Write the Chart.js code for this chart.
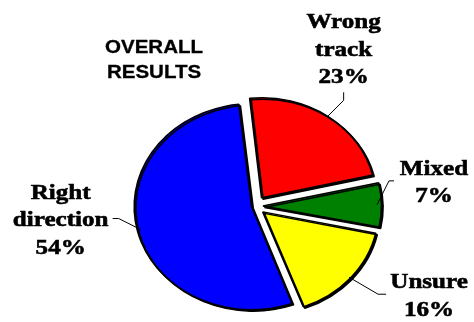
<!DOCTYPE html>
<html>
<head>
<meta charset="utf-8">
<script src="https://cdn.jsdelivr.net/npm/chart.js@4/dist/chart.umd.min.js"></script>
<style>
  html, body { margin: 0; padding: 0; background: #fff; }
  #wrap { width: 474px; height: 322px; }
</style>
</head>
<body>
<div id="wrap"><canvas id="pie" width="474" height="322"></canvas></div>
<script>
// data
const categories = ['Wrong\ntrack', 'Mixed', 'Unsure', 'Right\ndirection']
const percents = [23, 7, 16, 54]
const colors = ['#ff0000', '#008000', '#ffff00', '#0000ff']
const explode = [40, 28, 36, 12]
const titleLines = ['OVERALL', 'RESULTS']

// the original picture is stretched sideways a bit
const STRETCH = 1.14

// leader line / label placement, relative to the point on each slice edge
const labelPos = [
  { elbow: [16, -16], end: [0, -8], text: [16, -88] },
  { elbow: [12, -24], end: [5, 0], text: [57, -30] },
  { elbow: [29, 17], end: [8, 0], text: [80, 11] },
  { elbow: [-22, -11], end: [-6, 0], text: [-80, -31] }
]

function edgePoint(el, cx) {
  const mid = (el.startAngle + el.endAngle) / 2
  const r = el.outerRadius + (el.options.offset || 0) / 4
  const ux = el.x + Math.cos(mid) * r
  const uy = el.y + Math.sin(mid) * r
  return [cx + (ux - cx) * STRETCH, uy]
}

function stretchedText(ctx, t, x, y) {
  ctx.save()
  ctx.translate(x, y)
  ctx.scale(STRETCH, 1)
  ctx.fillText(t, 0, 0)
  ctx.strokeText(t, 0, 0)
  ctx.restore()
}

const stretchPlugin = {
  id: 'stretch',
  beforeDatasetsDraw(chart) {
    const ctx = chart.ctx
    const cx = chart.getDatasetMeta(0).data[0].x
    ctx.save()
    ctx.translate(cx, 0)
    ctx.scale(STRETCH, 1)
    ctx.translate(-cx, 0)
    ctx.shadowColor = '#000'
    ctx.shadowOffsetX = 1.5
    ctx.shadowOffsetY = 1.5
    ctx.shadowBlur = 0
  },
  afterDatasetsDraw(chart) {
    const ctx = chart.ctx
    ctx.restore()
    const arcs = chart.getDatasetMeta(0).data
    const cx = arcs[0].x

    // title
    ctx.save()
    ctx.fillStyle = '#000'
    ctx.strokeStyle = '#000'
    ctx.lineWidth = 0.3
    ctx.textBaseline = 'alphabetic'
    ctx.font = 'bold 18px "Liberation Sans", Arial, sans-serif'
    ctx.textAlign = 'center'
    titleLines.forEach((t, i) => stretchedText(ctx, t, 154, 53 + i * 25))
    ctx.restore()

    // slice labels with leader lines
    arcs.forEach((el, i) => {
      const p = labelPos[i]
      const [ax, ay] = edgePoint(el, cx)
      const ex = ax + p.elbow[0], ey = ay + p.elbow[1]
      ctx.save()
      ctx.strokeStyle = '#000'
      ctx.lineWidth = 1
      ctx.beginPath()
      ctx.moveTo(ax, ay)
      ctx.lineTo(ex, ey)
      ctx.lineTo(ex + p.end[0], ey + p.end[1])
      ctx.stroke()

      const lines = categories[i].split('\n').concat(percents[i] + '%')
      ctx.fillStyle = '#000'
      ctx.lineWidth = 0.6
      ctx.textBaseline = 'alphabetic'
      ctx.font = 'bold 22px "Liberation Serif", "Times New Roman", serif'
      ctx.textAlign = 'center'
      lines.forEach((t, j) => stretchedText(ctx, t, ax + p.text[0], ay + p.text[1] + j * 27.5))
      ctx.restore()
    })
  }
}

new Chart(document.getElementById('pie'), {
  type: 'pie',
  data: {
    labels: categories,
    datasets: [{
      data: percents,
      backgroundColor: colors,
      borderColor: '#000',
      borderWidth: 1.5,
      offset: explode
    }]
  },
  options: {
    responsive: false,
    animation: false,
    rotation: -6,
    radius: 100,
    layout: { padding: { left: 36, right: 0, top: 90, bottom: 0 } },
    plugins: {
      legend: { display: false },
      tooltip: { enabled: false }
    }
  },
  plugins: [stretchPlugin]
})
</script>
</body>
</html>
